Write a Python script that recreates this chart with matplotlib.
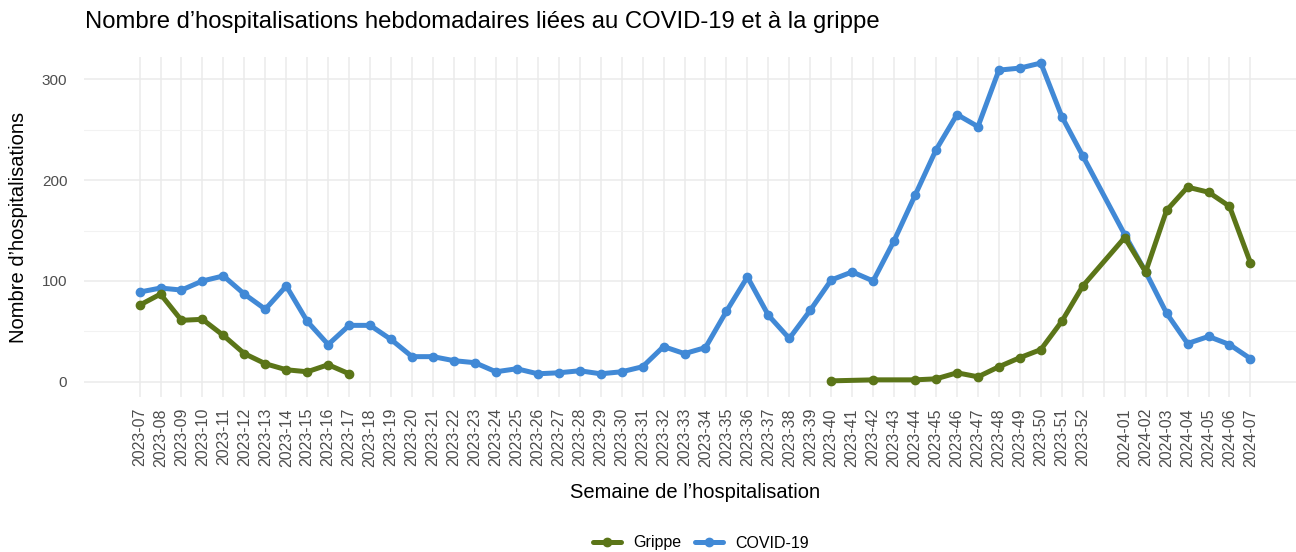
import matplotlib
matplotlib.use("Agg")
import numpy as np
import matplotlib.pyplot as plt

plt.rcParams['font.family'] = ['Liberation Sans', 'DejaVu Sans']

# axis slots (one blank slot between 2023-52 and 2024-01)
weeks = ['2023-%02d' % w for w in range(7, 53)] + [''] + ['2024-%02d' % w for w in range(1, 8)]

covid_weeks = ['2023-%02d' % w for w in range(7, 53)] + ['2024-%02d' % w for w in range(1, 8)]
covid_vals = [89, 93, 91, 100, 105, 87, 72, 95, 60, 37, 56, 56, 42, 25, 25, 21, 19, 10,
              13, 8, 9, 11, 8, 10, 15, 35, 28, 34, 70, 104, 66, 43, 71, 101, 109, 100,
              140, 185, 230, 265, 253, 309, 311, 316, 263, 224,
              146, 109, 68, 38, 45, 37, 23]

# grippe: two separate stretches of data
grippe_weeks_1 = ['2023-%02d' % w for w in range(7, 18)]
grippe_vals_1 = [76, 87, 61, 62, 46, 28, 18, 12, 10, 17, 8]
grippe_weeks_2 = ['2023-40', '2023-42', '2023-44', '2023-45', '2023-46', '2023-47', '2023-48',
                  '2023-49', '2023-50', '2023-51', '2023-52'] + ['2024-%02d' % w for w in range(1, 8)]
grippe_vals_2 = [1, 2, 2, 3, 9, 5, 15, 24, 32, 60, 95,
                 143, 109, 170, 193, 188, 174, 118]

pos = {w: i for i, w in enumerate(weeks)}

fig = plt.figure(figsize=(12.96, 5.52), dpi=100)
# panel runs a bit past the right edge, as in the reference crop
ax = fig.add_axes([84/1296, 1 - 397/552, (1306 - 84)/1296, (397 - 57)/552])

c_grippe = '#5b7518'
c_covid = '#4189d6'
style = dict(lw=3.6, marker='o', ms=6, solid_capstyle='round')
ax.plot([pos[w] for w in covid_weeks], covid_vals, color=c_covid, label='COVID-19', zorder=3, **style)
ax.plot([pos[w] for w in grippe_weeks_1], grippe_vals_1, color=c_grippe, label='Grippe', zorder=4, **style)
ax.plot([pos[w] for w in grippe_weeks_2], grippe_vals_2, color=c_grippe, zorder=4, **style)

ax.set_xlim(-2.65, 55.65)
ax.set_ylim(-15, 322)
ax.set_xticks(range(len(weeks)))
ax.set_xticklabels(weeks, rotation=90, fontsize=11.5, color='#4d4d4d')
ax.set_yticks([0, 100, 200, 300])
ax.set_yticks([50, 150, 250], minor=True)
ax.tick_params(axis='y', labelsize=11, labelcolor='#4d4d4d', length=0, pad=12)
ax.tick_params(axis='x', length=0, pad=8)
ax.tick_params(which='minor', length=0)
ax.grid(True, which='major', color='#ebebeb', lw=1.1)
ax.grid(True, which='minor', axis='y', color='#f2f2f2', lw=0.8)
ax.set_axisbelow(True)
for s in ax.spines.values():
    s.set_visible(False)

ax.set_xlabel('Semaine de l\u2019hospitalisation', fontsize=14.5, labelpad=12)
ax.set_ylabel('Nombre d\u2019hospitalisations', fontsize=14.5, labelpad=10)
fig.text(85/1296, 1 - 22/552, 'Nombre d\u2019hospitalisations hebdomadaires li\u00e9es au COVID-19 et \u00e0 la grippe',
         fontsize=17.2, va='center', ha='left')

h, l = ax.get_legend_handles_labels()
fig.legend(h[::-1], l[::-1], loc='center', bbox_to_anchor=(701/1296, 1 - 543/552), ncol=2,
           frameon=False, fontsize=11.5, handlelength=1.75, columnspacing=0.8, handletextpad=0.8)

fig.savefig('out.png', dpi=100)
